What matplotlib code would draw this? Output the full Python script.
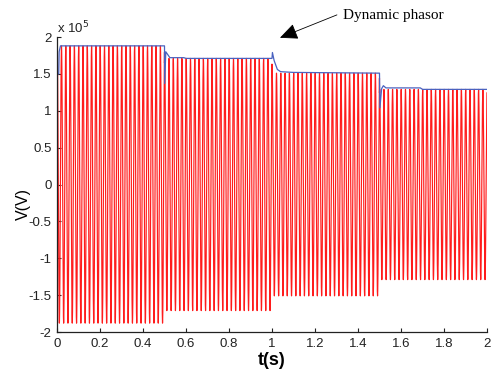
import numpy as np
import matplotlib
matplotlib.use("Agg")
import matplotlib.pyplot as plt

# --- data ---
seg_edges = [0.0, 0.5, 1.0, 1.5, 2.0]          # s
seg_amps = [1.88e5, 1.71e5, 1.51e5, 1.29e5]     # V (peak of red waveform)
freq_hz = 50.0
samples_per_cycle = 200

env_t = [0.0, 0.008, 0.010, 0.016, 0.5, 0.501, 0.506, 0.525, 0.59, 0.60, 1.0,
         1.002, 1.01, 1.025, 1.04, 1.10, 1.5, 1.502, 1.51, 1.518, 1.53, 1.69, 1.70, 2.0]
env_v = [1.50e5, 1.50e5, 1.80e5, 1.88e5, 1.88e5, 1.37e5, 1.80e5, 1.72e5, 1.72e5, 1.71e5, 1.71e5,
         1.79e5, 1.68e5, 1.56e5, 1.53e5, 1.52e5, 1.51e5, 1.04e5, 1.30e5, 1.34e5, 1.31e5, 1.31e5, 1.29e5, 1.29e5]

xticks = [0, 0.2, 0.4, 0.6, 0.8, 1, 1.2, 1.4, 1.6, 1.8, 2]
xtick_labels = ["0", "0.2", "0.4", "0.6", "0.8", "1", "1.2", "1.4", "1.6", "1.8", "2"]
yticks = [-2e5, -1.5e5, -1e5, -0.5e5, 0, 0.5e5, 1e5, 1.5e5, 2e5]
ytick_labels = ["-2", "-1.5", "-1", "-0.5", "0", "0.5", "1", "1.5", "2"]

# --- waveform ---
dt = 1.0 / (freq_hz * samples_per_cycle)
t = np.arange(0, 2 + dt / 2, dt)
amp = np.array(seg_amps)[np.clip(np.searchsorted(seg_edges, t, side="right") - 1, 0, len(seg_amps) - 1)]
v = amp * np.sin(2 * np.pi * freq_hz * t + 1.3)

plt.rcParams['font.family'] = ['Liberation Sans', 'DejaVu Sans']
fig = plt.figure(figsize=(4.94, 3.72), dpi=100)
ax = fig.add_axes([0.1154, 0.1075, 0.8704, 0.793])

ax.plot(t, v, color='#ff1c1c', lw=0.85)
ax.plot(env_t, env_v, color='#4a62c0', lw=0.9)

ax.set_xlim(0, 2)
ax.set_ylim(-2e5, 2e5)
ax.set_xticks(xticks)
ax.set_xticklabels(xtick_labels)
ax.set_yticks(yticks)
ax.set_yticklabels(ytick_labels)
ax.tick_params(direction='in', length=3, width=0.8, labelsize=9.5, colors='#222222', pad=4)
for s in ['top', 'right']:
    ax.spines[s].set_visible(False)
for s in ['left', 'bottom']:
    ax.spines[s].set_linewidth(0.9)
    ax.spines[s].set_color('#222222')

ax.set_xlabel('t(s)', fontsize=13, fontweight='bold', labelpad=2)
fig.text(23 / 494, 1 - 204 / 372, 'V(V)', fontsize=11.5, rotation=90, ha='center', va='center')

fig.text(0.1154, 1 - 28 / 372, r'x 10$^5$', fontsize=9.5, color='#222222', ha='left', va='center')

ax.annotate('', xy=(1.037, 1.99e5), xytext=(1.302, 2.30e5), annotation_clip=False,
            arrowprops=dict(arrowstyle='-|>,head_length=1.1,head_width=0.5', color='black', lw=0.6,
                            shrinkA=0, shrinkB=0))
ax.text(1.33, 2.29e5, 'Dynamic phasor', fontsize=11, family='Liberation Serif',
        ha='left', va='center', clip_on=False)

fig.savefig('out.png', dpi=100)
